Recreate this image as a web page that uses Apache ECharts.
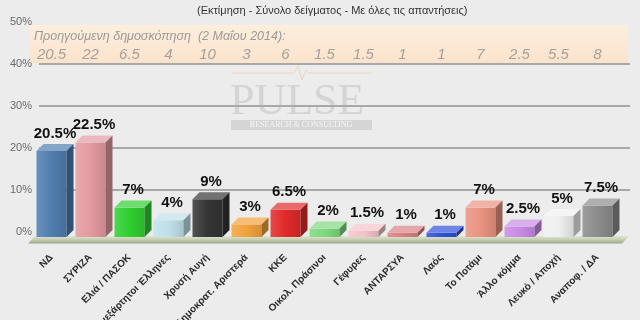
<!DOCTYPE html>
<html><head><meta charset="utf-8">
<script src="https://cdn.jsdelivr.net/npm/echarts@6/dist/echarts.min.js"></script>
<style>html,body{margin:0;padding:0;background:#ececec}#c{width:640px;height:320px}</style>
</head><body><div id="c"></div>
<script>
const categories = ['ΝΔ','ΣΥΡΙΖΑ','Ελιά / ΠΑΣΟΚ','Ανεξάρτητοι Έλληνες','Χρυσή Αυγή','Δημοκρατ. Αριστερά','ΚΚΕ','Οικολ. Πράσινοι','Γέφυρες','ΑΝΤΑΡΣΥΑ','Λαός','Το Ποτάμι','Άλλο κόμμα','Λευκό / Αποχή','Αναποφ. / ΔΑ'];
const values = [20.5,22.5,7,4,9,3,6.5,2,1.5,1,1,7,2.5,5,7.5];
const previous = [20.5,22,6.5,4,10,3,6,1.5,1.5,1,1,7,2.5,5.5,8];
const barColors = ['#4f7db0','#e39aa0','#2fcf2f','#bfe0ea','#353535','#f2a23a','#e02a2a','#7ed97e','#f3c3c8','#d98080','#2f4fd8','#ea9380','#c98ae6','#f0f0f0','#8c8c8c'];
const yTicks = [0,10,20,30,40,50];
const titleText = '(Εκτίμηση - Σύνολο δείγματος - Με όλες τις απαντήσεις)';
const prevTitle = 'Προηγούμενη δημοσκόπηση  (2 Μαΐου 2014):';
const prevRowLevel = 43.4;

function shade(hex, f){
  const n = parseInt(hex.slice(1),16);
  let r=(n>>16)&255,g=(n>>8)&255,b=n&255;
  const m = x => f>=0 ? Math.round(x+(255-x)*f) : Math.round(x*(1+f));
  return 'rgb('+m(r)+','+m(g)+','+m(b)+')';
}

const chart = echarts.init(document.getElementById('c'));
const fontN = "'Liberation Sans Narrow','Liberation Sans',Arial,sans-serif";
chart.setOption({
  backgroundColor:'#ececec',
  animation:false,
  title:{text:titleText,left:192,top:0,textStyle:{fontSize:11,fontWeight:'normal',color:'#333',fontFamily:fontN}},
  graphic:[
    {type:'rect',z:-10,shape:{x:30,y:25,width:598,height:38},style:{fill:new echarts.graphic.LinearGradient(0,0,0,1,[{offset:0,color:'#fdeedd'},{offset:1,color:'#fbe3cc'}])}},
    {type:'text',z:-5,x:34,y:30,style:{text:prevTitle,font:"italic 12.5px 'Liberation Sans',sans-serif",fill:'#9a9a9a'}},
    {type:'polyline',z:-8,shape:{points:[[232,73],[294,73],[298,66],[302,80],[306,70],[309,73],[372,73]]},style:{stroke:'rgba(230,200,150,0.6)',lineWidth:1}},
    {type:'text',z:-8,x:230,y:80,style:{text:'PULSE',font:"44px 'Liberation Serif',serif",fill:'rgba(150,150,150,0.28)'}},
    {type:'rect',z:-8,shape:{x:231,y:120,width:141,height:10},style:{fill:'rgba(160,160,160,0.3)'}},
    {type:'text',z:-7,x:301,y:125,style:{text:'RESEARCH & CONSULTING',font:"8px 'Liberation Serif',serif",fill:'rgba(255,255,255,0.8)',align:'center',verticalAlign:'middle'}},
    {type:'polygon',z:-1,shape:{points:[[28,243.5],[622,243.5],[629,236],[35,236]]},style:{fill:new echarts.graphic.LinearGradient(0,0,0,1,[{offset:0,color:'#dfe6d2'},{offset:0.5,color:'#c3cdb0'},{offset:1,color:'#9aa685'}])}}
  ],
  grid:[
    {left:32,right:23,top:27,bottom:83,containLabel:false,outerBoundsMode:'none'},
    {left:39,right:10,top:22,bottom:88,containLabel:false,outerBoundsMode:'none'}
  ],
  xAxis:[
    {type:'category',gridIndex:0,data:categories,axisLine:{show:false},axisTick:{show:false},
     axisLabel:{rotate:45,margin:19,interval:0,fontSize:10,fontWeight:'bold',color:'#2a2a2a',fontFamily:"'Liberation Sans',Arial,sans-serif"}},
    {type:'category',gridIndex:1,data:categories,show:false}
  ],
  yAxis:[
    {type:'value',gridIndex:0,min:0,max:50,show:false},
    {type:'value',gridIndex:1,min:yTicks[0],max:yTicks[yTicks.length-1],interval:10,
     axisLine:{show:false},axisTick:{show:false},
     axisLabel:{formatter:'{value}%',margin:7,fontSize:11,color:'#6a6a6a',fontFamily:"'Liberation Sans',Arial,sans-serif"},
     splitLine:{show:true,showMinLine:false,showMaxLine:false,lineStyle:{color:'#a8a8a8',width:2}}}
  ],
  series:[
    {type:'custom',xAxisIndex:0,yAxisIndex:0,z:5,
     data:values.map((v,i)=>[i,v]),
     renderItem:function(params,api){
       const i=api.value(0), v=api.value(1);
       const b=api.coord([i,0]), t=api.coord([i,v]);
       const hw=15, dx=7, dy=7, c=barColors[i];
       const x0=b[0]-hw, x1=b[0]+hw, yb=b[1], yt=t[1];
       return {type:'group',children:[
         {type:'rect',shape:{x:x0,y:yt,width:2*hw,height:yb-yt},
          style:{fill:new echarts.graphic.LinearGradient(0,0,1,0,[{offset:0,color:shade(c,0.15)},{offset:0.5,color:c},{offset:1,color:shade(c,-0.12)}])}},
         {type:'polygon',shape:{points:[[x0,yt],[x1,yt],[x1+dx,yt-dy],[x0+dx,yt-dy]]},style:{fill:shade(c,0.3)}},
         {type:'polygon',shape:{points:[[x1,yt],[x1+dx,yt-dy],[x1+dx,yb-dy],[x1,yb]]},style:{fill:shade(c,-0.35)}},
         {type:'text',x:b[0]+dx/2,y:yt-dy-3,style:{text:v+'%',align:'center',verticalAlign:'bottom',font:"bold 15px 'Liberation Sans',Arial,sans-serif",fill:'#111'}}
       ]};
     }},
    {type:'scatter',xAxisIndex:0,yAxisIndex:0,symbolSize:0,z:6,
     data:previous.map((v,i)=>[i,prevRowLevel]),
     label:{show:true,position:'inside',formatter:p=>String(previous[p.dataIndex]),fontSize:15,fontStyle:'italic',color:'#8e8e8e',fontFamily:"'Liberation Sans',Arial,sans-serif"}}
  ]
});
</script></body></html>
